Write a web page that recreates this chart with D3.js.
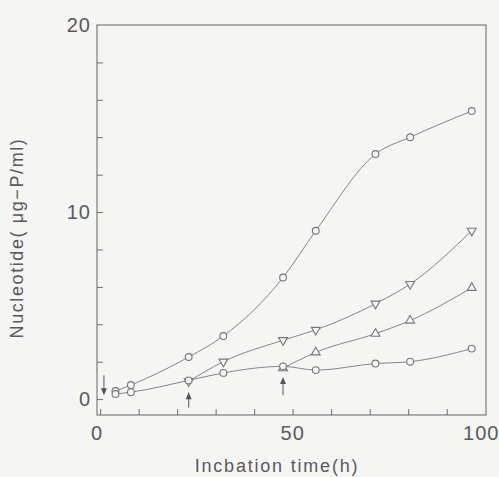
<!DOCTYPE html>
<html>
<head>
<meta charset="utf-8">
<script src="https://cdn.jsdelivr.net/npm/d3@7"></script>
<style>
    body { margin: 0; background: #f5f5f4; }
    svg text { font-family: "Liberation Sans", Arial, sans-serif; fill: #5a5a5a; }
</style>
</head>
<body>
<svg id="chart" width="499" height="477"></svg>
<script>
// incubation times (h) for each series
const timesA = [4, 8, 23, 32, 47.5, 56, 71.5, 80.5, 96.5];      // top, open circle
const valuesA = [0.43, 0.75, 2.25, 3.37, 6.5, 9.0, 13.1, 14.0, 15.4];

const timesB = [23, 32, 47.5, 56, 71.5, 80.5, 96.5];             // down triangles
const valuesB = [0.95, 2.0, 3.15, 3.7, 5.1, 6.15, 9.0];

const timesC = [47.5, 56, 71.5, 80.5, 96.5];                      // up triangles
const valuesC = [1.65, 2.5, 3.5, 4.2, 5.95];

const timesD = [4, 8, 23, 32, 47.5, 56, 71.5, 80.5, 96.5];       // bottom, open circle
const valuesD = [0.27, 0.37, 1.0, 1.4, 1.75, 1.55, 1.9, 2.0, 2.7];

// arrows marking additions: time, tail value, head value
const arrowTimes = [1, 23, 47.5];
const arrowFrom = [1.28, -0.45, 0.2];
const arrowTo = [0.2, 0.37, 1.18];

const xTicks = [0, 50, 100];
const yTicks = [0, 10, 20];

const LINE_COLOR = "#858585";
const FRAME_COLOR = "#6e6e6e";
const BG = "#f5f5f4";

const plot = {left: 97, right: 486, top: 25, bottom: 415};

const svg = d3.select("#chart");

const x = d3.scaleLinear()
    .domain([-0.8, 100.2])
    .range([plot.left, plot.right]);

const y = d3.scaleLinear()
    .domain([-0.85, 20])
    .range([plot.bottom, plot.top]);

// frame
svg.append("rect")
    .attr("x", plot.left)
    .attr("y", plot.top)
    .attr("width", plot.right - plot.left)
    .attr("height", plot.bottom - plot.top)
    .style("fill", "none")
    .style("stroke", FRAME_COLOR)
    .style("stroke-width", 1.1);

// inward ticks
svg.append("g")
    .attr("transform", `translate(0,${plot.bottom})`)
    .call(d3.axisTop(x).tickValues(d3.range(0, 100, 10)).tickSize(6).tickFormat(""))
    .call(g => g.select(".domain").remove())
    .selectAll("line").style("stroke", FRAME_COLOR);

svg.append("g")
    .attr("transform", `translate(${plot.left},0)`)
    .call(d3.axisRight(y).tickValues(d3.range(0, 20, 2)).tickSize(6).tickFormat(""))
    .call(g => g.select(".domain").remove())
    .selectAll("line").style("stroke", FRAME_COLOR);

// tick labels
svg.selectAll(".xlab")
    .data(xTicks)
    .join("text")
    .attr("class", "xlab")
    .attr("x", d => x(d) - (d === 0 ? 3 : d === 100 ? 4 : 0))
    .attr("y", 440)
    .attr("text-anchor", "middle")
    .style("font-size", "20px")
    .style("letter-spacing", "1px")
    .text(d => d);

svg.selectAll(".ylab")
    .data(yTicks)
    .join("text")
    .attr("class", "ylab")
    .attr("x", 91)
    .attr("y", d => y(d) + 7)
    .attr("text-anchor", "end")
    .style("font-size", "20px")
    .style("letter-spacing", "1px")
    .text(d => d);

// axis titles
svg.append("text")
    .attr("x", 277)
    .attr("y", 472)
    .attr("text-anchor", "middle")
    .style("font-size", "18px")
    .style("letter-spacing", "1.8px")
    .text("Incbation time(h)");

svg.append("text")
    .attr("transform", `translate(${23},${238}) rotate(-90)`)
    .attr("text-anchor", "middle")
    .style("font-size", "18px")
    .style("letter-spacing", "1.6px")
    .text("Nucleotide( μg−P/ml)");

// curves
const series = [
    {t: timesA, v: valuesA, mark: "circle"},
    {t: timesB, v: valuesB, mark: "down"},
    {t: timesC, v: valuesC, mark: "up"},
    {t: timesD, v: valuesD, mark: "circle"}
];

const line = d3.line()
    .x(d => x(d[0]))
    .y(d => y(d[1]))
    .curve(d3.curveMonotoneX);

series.forEach(s => {
    const pts = s.t.map((t, i) => [t, s.v[i]]);
    svg.append("path")
        .datum(pts)
        .attr("d", line)
        .style("fill", "none")
        .style("stroke", LINE_COLOR)
        .style("stroke-width", 1);
});

const triUp = d3.symbol().type(d3.symbolTriangle).size(34);

series.forEach(s => {
    const pts = s.t.map((t, i) => [t, s.v[i]]);
    const g = svg.append("g");
    if (s.mark === "circle") {
        g.selectAll("circle")
            .data(pts)
            .join("circle")
            .attr("cx", d => x(d[0]))
            .attr("cy", d => y(d[1]))
            .attr("r", 3.4)
            .style("fill", BG)
            .style("stroke", "#777")
            .style("stroke-width", 1.1);
    } else {
        const rot = s.mark === "down" ? 180 : 0;
        g.selectAll("path")
            .data(pts)
            .join("path")
            .attr("d", triUp)
            .attr("transform", d => `translate(${x(d[0])},${y(d[1])}) rotate(${rot})`)
            .style("fill", BG)
            .style("stroke", "#777")
            .style("stroke-width", 1.1);
    }
});

// arrows
arrowTimes.forEach((t, i) => {
    const x0 = x(t), y0 = y(arrowFrom[i]), y1 = y(arrowTo[i]);
    const dir = y1 > y0 ? 1 : -1;
    svg.append("line")
        .attr("x1", x0).attr("y1", y0)
        .attr("x2", x0).attr("y2", y1 - dir * 5)
        .style("stroke", "#666")
        .style("stroke-width", 1.1);
    svg.append("path")
        .attr("d", `M${x0 - 3},${y1 - dir * 7} L${x0 + 3},${y1 - dir * 7} L${x0},${y1} Z`)
        .style("fill", "#555");
});
</script>
</body>
</html>
